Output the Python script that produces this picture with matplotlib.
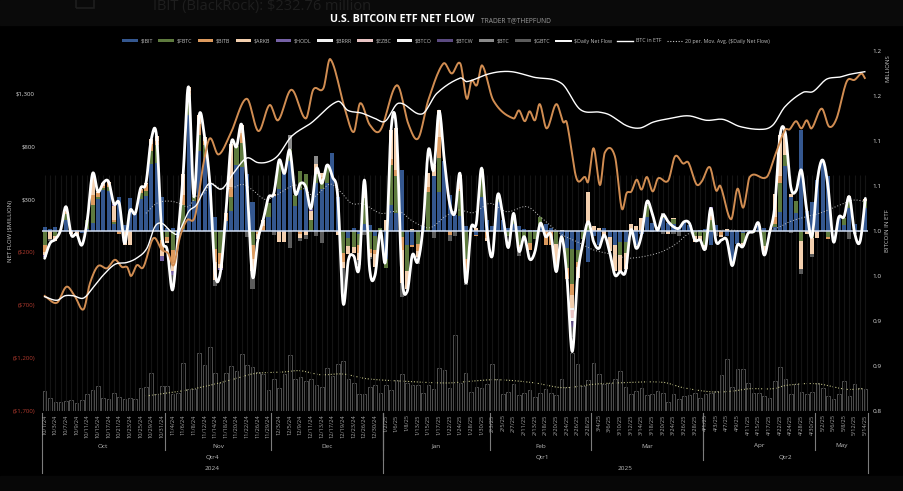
import numpy as np
import matplotlib
matplotlib.use("Agg")
import matplotlib.pyplot as plt
from matplotlib.lines import Line2D
from matplotlib.patches import Patch, Rectangle

plt.rcParams['font.family'] = ['Liberation Sans Narrow', 'Open Sans', 'DejaVu Sans']

# ---------------- data ----------------
date_labels = ["10/1/24","10/3/24","10/7/24","10/9/24","10/11/24","10/15/24","10/17/24","10/21/24","10/23/24","10/25/24","10/29/24","10/31/24",
 "11/4/24","11/6/24","11/8/24","11/12/24","11/14/24","11/18/24","11/20/24","11/22/24","11/26/24","11/29/24",
 "12/3/24","12/5/24","12/9/24","12/11/24","12/13/24","12/17/24","12/19/24","12/23/24","12/26/24","12/30/24",
 "1/2/25","1/6/25","1/8/25","1/13/25","1/15/25","1/17/25","1/22/25","1/24/25","1/28/25","1/30/25",
 "2/3/25","2/5/25","2/7/25","2/11/25","2/13/25","2/18/25","2/20/25","2/24/25","2/26/25","2/28/25",
 "3/4/25","3/6/25","3/10/25","3/12/25","3/14/25","3/18/25","3/20/25","3/24/25","3/26/25","3/28/25",
 "4/1/25","4/3/25","4/7/25","4/9/25","4/11/25","4/15/25","4/17/25","4/22/25","4/24/25","4/28/25","4/30/25",
 "5/2/25","5/6/25","5/8/25","5/12/25","5/14/25"]

IBIT = [38,15,40,5,100,10,10,-20,20,80,
 300,390,380,70,320,60,310,160,300,330,
 630,640,320,30,25,-70,20,1100,280,760,
 700,450,130,0,90,190,620,600,540,270,
 0,0,135,330,400,550,660,240,390,410,
 0,450,400,450,740,320,0,-70,25,-30,
 70,60,-50,0,-260,250,170,580,-130,-130,
 0,50,0,520,370,660,340,150,140,50,
 20,-40,320,100,50,270,100,30,70,50,
 20,10,10,60,70,30,0,-50,-160,-170,
 -180,10,-290,-50,-130,30,-60,-130,-100,-100,
 -20,-130,-30,130,80,20,120,80,70,40,
 85,60,0,10,20,-130,60,0,-50,-300,
 -120,-20,10,0,50,30,0,40,180,610,
 320,170,950,190,270,480,660,520,0,120,
 60,220,70,0,220]
FBTC = [-130,0,-50,5,60,0,0,0,80,170,
 25,15,40,15,0,0,0,0,60,50,
 130,170,-85,-60,-180,0,230,180,50,150,
 110,0,-170,-210,0,130,180,230,0,-130,
 0,0,130,0,230,0,110,100,180,130,
 100,90,50,170,0,0,-210,-70,-150,-100,
 240,-170,-130,30,-90,370,350,-60,-250,10,
 -120,0,370,0,320,0,0,0,240,-260,
 0,0,270,0,0,70,0,-50,80,-130,
 -60,-110,-80,70,0,0,-120,0,-190,-330,
 -110,-80,80,0,0,0,0,0,-130,-110,
 0,0,0,120,0,0,30,0,40,0,
 0,0,-50,-50,-130,100,0,0,0,0,
 0,-90,0,-20,0,-140,-10,30,270,110,
 0,110,-90,0,-70,0,0,-60,0,0,
 60,90,0,0,60]
BITB = [-70,0,0,0,40,0,0,0,0,90,
 30,20,35,20,-30,0,0,0,40,60,
 60,40,-95,-30,-120,0,90,40,0,100,
 40,0,-120,-100,80,100,0,100,0,-130,
 -30,50,0,0,0,0,0,0,-30,0,
 0,0,60,0,0,0,-80,0,0,-80,
 0,-40,-40,0,0,60,60,-120,0,-20,
 -70,0,50,0,200,0,-40,0,20,-130,
 0,-10,0,-70,0,0,0,0,0,-40,
 0,-70,0,0,-130,-130,0,0,-100,-100,
 -50,0,0,0,0,0,0,0,0,0,
 0,0,0,0,0,0,0,0,0,0,
 0,0,0,0,0,40,0,-40,0,0,
 0,0,0,0,0,0,0,60,70,0,
 0,0,0,0,0,0,0,-20,0,0,
 0,20,0,0,0]
ARKB = [-30,-80,-40,0,30,-30,-50,0,0,170,
 15,30,10,130,0,-130,-130,0,0,10,
 45,50,-60,-20,-80,0,200,40,0,90,
 40,0,-170,-40,0,400,0,70,0,-120,
 -50,50,0,20,-100,-100,0,0,-40,-40,
 90,90,40,0,0,-35,-60,-80,-60,-60,
 90,-40,-120,0,100,270,390,-310,-170,10,
 -60,0,130,100,250,0,0,0,130,-70,
 0,30,0,-20,0,0,0,0,0,0,
 0,0,0,0,0,0,-210,10,0,-130,
 -100,0,290,50,30,-40,-130,-250,-150,-150,
 70,50,120,0,0,0,0,-30,10,0,
 0,0,-50,-40,-30,60,0,-20,20,0,
 0,-30,0,0,0,-80,0,220,390,200,
 30,0,-270,-30,-150,-70,0,0,0,0,
 0,0,0,0,20]
# small funds: only the days on which they show
HODL_days = [0,13,22,24,33,50,125]
HODL_vals = [-15,20,-40,-40,-20,20,30]
BRRR_days = [99]
BRRR_vals = [-20]
EZBC_days = [99]
EZBC_vals = [-70]
BTCO_days = [99]
BTCO_vals = [-30]
BTCW_days = [99]
BTCW_vals = [-60]
BTC_days = [46,51,116]
BTC_vals = [140,80,20]
GBTC_days = [1,24,32,38,39,43,46,48,49,51,52,56,59,60,61,67,70,73,76,77,79,89,96,99,114,116,118,119,124,126,140,142,144,148,151,152,153]
GBTC_vals = [-10,-110,-60,-60,-170,-35,-160,-20,-40,-50,-110,-270,-50,-35,-10,-130,-60,-70,-50,-50,-50,-70,-25,-90,-10,-30,-30,-50,-20,-50,-15,-50,-30,-10,-80,-30,-10]

net_flow = [-258,-116,-79,10,230,-38,-28,-132,104,544,
 371,456,465,255,261,-116,192,167,403,450,
 865,896,-40,-180,-557,-50,544,1362,324,1094,
 890,450,-400,-383,167,827,796,1000,418,-430,
 -85,104,318,355,670,544,764,355,450,418,
 214,591,450,623,512,324,-680,-273,-236,-352,
 481,-368,-415,0,-270,953,965,-400,-575,-226,
 -290,40,764,575,1132,670,260,170,530,-480,
 25,72,594,10,-235,340,135,-157,167,-190,
 -53,-264,-195,72,-53,-38,-384,-53,-431,-1139,
 -431,-116,88,-100,-164,-38,-195,-415,-383,-383,
 10,-164,-38,277,167,10,151,88,40,25,
 88,72,-85,-85,-164,214,-100,-85,-85,-327,
 -132,-148,-22,-6,72,-226,-22,230,906,921,
 418,380,575,195,-53,481,670,418,-100,129,
 135,324,-22,-100,308]

etf_days = [0,2.3,3.8,5.4,7.3,9.2,11,13.2,15.4,17.3,19.2,20.7,22,23.8,25,27,28.5,29.8,31,33.2,35.4,37.9,40,42,43.8,46.3,50,55,56.9,59.5,62,63.9,66.4,70.8,73.6,78,79.2,83,85.5,88,91.7,97,100.5,104.2,106,109.2,111.7,114.2,117.3,120.8,124.2,127.3,130.5,134.8,136.7,138.9,142.3,144.2,146.7,149.2,151,153.9]
etf_btc = [.927,.923,.928,.928,.9255,.938,.951,.963,.965,.970,.981,1.005,1.0085,.999,.9974,1.0215,1.029,1.044,1.053,1.0467,1.064,1.081,1.076,1.077,1.084,1.105,1.120,1.144,1.134,1.131,1.125,1.122,1.142,1.130,1.153,1.170,1.166,1.174,1.177,1.1767,1.171,1.164,1.135,1.132,1.129,1.117,1.1144,1.121,1.125,1.128,1.123,1.124,1.116,1.113,1.118,1.138,1.154,1.155,1.1686,1.171,1.174,1.177]

orange_days = [0,2.3,4.1,5.7,7.3,8.5,10,11.7,13.2,14.5,15.5,16.2,17.3,18.5,20.4,22,23.2,24.2,25.4,26.7,28.2,29.8,31,32.6,34.8,37.9,40.1,42.2,43.8,46.3,49,50.4,52.3,53.6,56.4,58,59.2,61,63,66.1,68.3,70.1,72,74.8,76.4,78,79.2,80.1,81.1,82.1,84.2,88,89,90.1,91,92,92.9,94.2,96,97.3,98,99.8,101.4,102,103,104.2,105.1,107,108.3,109.2,110.1,111.1,112,113,114.1,115.1,117,118.3,119.8,120.8,122.3,123.3,124.8,126,126.8,128.8,130,131.1,132.3,135.5,137,138.9,139.8,141,142,143,143.9,145.8,147.2,148.6,150.5,152,153.3,153.9]
orange_vals = [.9278,.9203,.9381,.927,.913,.942,.961,.9586,.968,.960,.9597,.950,.962,.9597,.992,.979,.975,.962,.9937,1.012,1.016,1.075,1.103,1.085,1.107,1.147,1.111,1.140,1.123,1.157,1.125,1.157,1.1585,1.191,1.1344,1.110,1.142,1.118,1.112,1.162,1.118,1.103,1.1456,1.186,1.175,1.186,1.147,1.167,1.162,1.184,1.145,1.125,1.134,1.122,1.133,1.123,1.141,1.114,1.141,1.121,1.120,1.0585,1.060,1.055,1.092,1.051,1.087,1.083,1.025,1.042,1.044,1.057,1.046,1.060,1.044,1.0585,1.056,1.083,1.075,1.076,1.052,1.055,1.071,1.045,1.050,1.013,1.047,1.026,1.060,1.060,1.083,1.112,1.113,1.122,1.114,1.123,1.114,1.136,1.116,1.125,1.166,1.168,1.175,1.170]

ma_days = [19,21,23.3,25.3,27,28.4,30,31,33,35,37.2,39,41.3,43,45,47.1,49,50.5,51.7,53.6,55.5,57.6,59.8,63,65.1,66.7,69.2,72.3,75.1,77.6,80.5,83.6,86.7,90.5,93,96.7,100.5,103,107,109.5,115,118.2,121,124.8,128,135.4,138,139.8,142.9,145.4,149.2,151.8,154]
ma_vals = [167,261,283,261,230,324,355,450,403,403,440,387,299,324,387,434,387,324,371,443,371,261,255,167,182,182,88,31,135,198,173,261,182,230,135,-22,-116,-179,-226,-258,-210,-132,-22,-6,9,-6,41,88,135,167,245,292,277]

volume = [2.0,1.33,.93,.93,1.03,1.1,.83,1.1,1.67,2.07,
 2.5,1.27,1.23,1.83,1.43,1.17,1.33,1.23,2.33,2.43,
 3.83,1.67,2.5,2.5,1.67,1.83,4.77,2.23,2.17,5.77,
 4.57,6.43,3.83,2.83,3.83,4.5,4.0,5.67,4.57,4.43,
 3.93,3.67,2.07,3.17,2.33,3.67,5.57,3.23,3.43,3.03,
 3.17,2.57,2.43,4.33,3.5,4.67,5.0,3.23,2.83,1.73,
 1.73,2.43,2.57,1.83,2.63,2.1,3.1,3.67,2.77,2.57,
 2.57,1.83,2.57,2.23,4.33,4.1,2.33,7.6,2.83,3.83,
 1.93,2.43,2.33,2.73,4.67,3.17,1.67,1.93,2.67,1.57,
 1.77,2.07,1.43,1.77,2.23,1.77,1.57,3.17,2.43,5.8,
 4.67,2.5,3.1,4.77,3.67,2.67,2.83,3.17,4.0,2.43,
 1.67,2.0,2.27,1.57,1.73,2.0,1.77,.93,1.67,1.17,
 1.5,1.57,1.83,1.33,1.67,1.83,2.0,3.57,5.23,2.43,
 4.23,4.23,2.77,1.77,1.77,1.5,1.33,3.0,4.43,3.23,
 1.67,2.67,1.9,1.67,1.93,2.83,2.33,1.5,1.17,1.73,
 3.0,1.5,2.73,2.33,2.23]
vol_ma_days = [19,25.7,30.4,35.4,39.2,44.8,47.9,51.7,56,60.4,66.7,75.4,79.8,84.8,91.7,97.3,102.9,108.5,116,119.8,125.4,129.2,132.3,136.7,139.2,144.8,150.4,153.5]
vol_ma_vals = [1.5,2.0,2.5,3.17,3.73,3.9,4.03,3.63,3.7,3.23,3.0,2.8,2.97,3.13,2.83,2.33,2.67,2.83,2.87,2.33,1.9,2.0,2.23,2.23,2.57,2.73,2.17,2.23]

month_edges = [22.5,42.5,63.5,83.5,102.5,123.5,144.5]
month_names = ["Oct","Nov","Dec","Jan","Feb","Mar","Apr","May"]
quarter_edges = [63.5,123.5]
quarter_names = ["Qtr4","Qtr1","Qtr2"]
year_edges = [63.5]
year_names = ["2024","2025"]

left_ticks = [-1700,-1200,-700,-200,300,800,1300]
left_labels = ["($1,700)","($1,200)","($700)","($200)","$300","$800","$1,300"]
right_ticks = [0.80,0.85,0.90,0.95,1.00,1.05,1.10,1.15,1.20]
right_labels = ["0.8","0.9","0.9","1.0","1.0","1.1","1.1","1.2","1.2"]

# ---------------- helpers ----------------
def smooth(xs, ys, n=12):
    xs = np.asarray(xs, float)
    ys = np.asarray(ys, float)
    m = np.zeros_like(ys)
    m[1:-1] = (ys[2:] - ys[:-2]) / (xs[2:] - xs[:-2])
    m[0] = (ys[1] - ys[0]) / (xs[1] - xs[0])
    m[-1] = (ys[-1] - ys[-2]) / (xs[-1] - xs[-2])
    ox, oy = [], []
    for i in range(len(xs) - 1):
        h = xs[i + 1] - xs[i]
        t = np.linspace(0, 1, n, endpoint=False)
        a = 2*t**3 - 3*t**2 + 1
        b = t**3 - 2*t**2 + t
        c = -2*t**3 + 3*t**2
        d = t**3 - t**2
        ox.append(xs[i] + t*h)
        oy.append(a*ys[i] + b*h*m[i] + c*ys[i+1] + d*h*m[i+1])
    ox.append([xs[-1]])
    oy.append([ys[-1]])
    return np.concatenate(ox), np.concatenate(oy)

def sparse(days, vals, n):
    out = np.zeros(n)
    out[days] = vals
    return out

# ---------------- figure ----------------
W, H = 904, 491
fig = plt.figure(figsize=(W/100, H/100), dpi=100, facecolor='black')
L, R, T, B = 42, 868, 51, 411
ax = fig.add_axes([L/W, 1-B/H, (R-L)/W, (B-T)/H], facecolor='none')
ax_r = ax.twinx()
ax_v = ax.twinx()
ax.set_zorder(2); ax_v.set_zorder(1); ax_r.set_zorder(3)
ax_r.patch.set_visible(False); ax_v.patch.set_visible(False)

# page edges of the screenshot
fig.add_artist(Rectangle((0, 1-25/H), 1, 25/H, transform=fig.transFigure, color='#0a0a0a', zorder=-5))
fig.add_artist(Rectangle((0, 0), 1, 15/H, transform=fig.transFigure, color='#070707', zorder=-5))
fig.text(153/W, 1-6.5/H, "IBIT (BlackRock): $232.76 million", color='#1e1e1e', fontsize=10.5, va='center', zorder=-4)
fig.add_artist(Rectangle((76/W, 1-8/H), 18/W, 14/H, transform=fig.transFigure, fill=False, ec='#1e1e1e', lw=1.2, zorder=-4))

n = len(IBIT)
x = np.arange(n)

# faint column guides
ax.vlines(x, -1700, 530, color='#141414', lw=0.8, zorder=0)

stack = [
    ("$IBIT", np.array(IBIT, float), '#34578f'),
    ("$FBTC", np.array(FBTC, float), '#5e7a3e'),
    ("$BITB", np.array(BITB, float), '#dc9a5e'),
    ("$ARKB", np.array(ARKB, float), '#f3cfae'),
    ("$HODL", sparse(HODL_days, HODL_vals, n), '#7561a5'),
    ("$BRRR", sparse(BRRR_days, BRRR_vals, n), '#f2f2f2'),
    ("$EZBC", sparse(EZBC_days, EZBC_vals, n), '#e8c4c4'),
    ("$BTCO", sparse(BTCO_days, BTCO_vals, n), '#f7f7f7'),
    ("$BTCW", sparse(BTCW_days, BTCW_vals, n), '#5b4a80'),
    ("$BTC", sparse(BTC_days, BTC_vals, n), '#8a8a8a'),
    ("$GBTC", sparse(GBTC_days, GBTC_vals, n), '#5c5c5c'),
]
pos = np.zeros(n); neg = np.zeros(n)
for name, vals, col in stack:
    bottoms = np.where(vals >= 0, pos, neg)
    ax.bar(x, vals, bottom=bottoms, width=0.76, color=col, lw=0, zorder=2, label=name)
    pos += np.clip(vals, 0, None)
    neg += np.clip(vals, None, 0)

ax.axhline(0, color='#cfdcf2', lw=1.1, zorder=3)
sx, sy = smooth(x, net_flow)
ax.plot(sx, sy, color='white', lw=2.0, zorder=5, label="$Daily Net Flow", solid_capstyle='round')
ax.plot(*smooth(ma_days, ma_vals), color='#c9c9c9', lw=0.7, ls=(0, (1, 2)), zorder=4,
        label="20 per. Mov. Avg. ($Daily Net Flow)")

ax.set_xlim(-0.5, 154.5)
ax.set_ylim(-1700, 1700)
ax.set_yticks(left_ticks)
ax.set_yticklabels(left_labels)
ax.tick_params(axis='y', length=0, labelsize=4.4, pad=5)
for t, v in zip(ax.get_yticklabels(), left_ticks):
    t.set_color('#d8d8d8' if v > 0 else '#b03a2e')
ax.set_xticks(x[::2])
ax.set_xticklabels(date_labels, rotation=90)
ax.tick_params(axis='x', length=0, labelsize=4.1, labelcolor='#a8a8a8', pad=2.5)
for s in ax.spines.values():
    s.set_visible(False)

# right axis: BTC held and orange line
ax_r.plot(*smooth(etf_days, etf_btc), color='white', lw=1.0, zorder=4, label="BTC in ETF")
ax_r.plot(*smooth(orange_days, orange_vals), color='#d18d52', lw=1.4, zorder=3)
ax_r.set_ylim(0.8, 1.2)
ax_r.set_yticks(right_ticks)
ax_r.set_yticklabels(right_labels)
ax_r.tick_params(axis='y', length=0, labelsize=4.6, labelcolor='#d8d8d8', pad=3.5)
for s in ax_r.spines.values():
    s.set_visible(False)

# volume columns at the foot
ax_v.bar(x, volume, width=0.68, facecolor='none', edgecolor='#5c5c5c', lw=0.6, zorder=1)
ax_v.plot(*smooth(vol_ma_days, vol_ma_vals), color='#c6c68a', lw=0.8, ls=(0, (1, 1.6)), zorder=2)
ax_v.set_ylim(0, 36)
ax_v.set_yticks([])
for s in ax_v.spines.values():
    s.set_visible(False)

# axis titles
fig.text(11/W, 1-231/H, "NET FLOW ($MILLION)", rotation=90, color='#c8c8c8', fontsize=4.3, ha='center', va='center')
fig.text(888/W, 1-231/H, "BITCOIN IN ETF", rotation=90, color='#c8c8c8', fontsize=4.3, ha='center', va='center')
fig.text(888/W, 1-68/H, "MILLIONS", rotation=90, color='#c8c8c8', fontsize=4.3, ha='center', va='center')

# multi-level date axis
tr = ax.get_xaxis_transform()
def yfrac(py):
    return (B - py) / (B - T)
def divider(xv, py_end):
    ax.plot([xv, xv], [yfrac(413), yfrac(py_end)], transform=tr, color='#7c7c7c', lw=0.8, clip_on=False, zorder=1)

ends = [-0.5, 154.5]
for xv in ends + year_edges:
    divider(xv, 473)
for xv in quarter_edges:
    divider(xv, 460)
for xv in month_edges:
    divider(xv, 450)

def centered(edges, names, py, size):
    e = [-0.5] + edges + [154.5]
    for i, name in enumerate(names):
        ax.text((e[i] + e[i+1]) / 2, yfrac(py), name, transform=tr, color='#bcbcbc', fontsize=size,
                ha='center', va='center', clip_on=False)
centered(month_edges, month_names, 446, 4.6)
centered(quarter_edges, quarter_names, 457.5, 4.6)
centered(year_edges, year_names, 469, 4.6)

# title
fig.text(402/W, 1-19.5/H, "U.S. BITCOIN ETF NET FLOW", color='white', fontsize=7.7, fontweight='bold', ha='center', va='center')
fig.text(481/W, 1-20.5/H, "TRADER T@THEPFUND", color='#9a9a9a', fontsize=4.8, ha='left', va='center')

# legend
handles = [Patch(facecolor=c, label=nm) for nm, _, c in stack]
handles += [Line2D([], [], color='white', lw=1.4, label="$Daily Net Flow"),
            Line2D([], [], color='white', lw=1.0, label="BTC in ETF"),
            Line2D([], [], color='#c9c9c9', lw=0.8, ls=(0, (1, 1.5)), label="20 per. Mov. Avg. ($Daily Net Flow)")]
leg = fig.legend(handles=handles, ncol=14, loc='center', bbox_to_anchor=(446/W, 1-41/H), frameon=False,
                 fontsize=3.8, handlelength=3.0, handleheight=0.5, handletextpad=0.5, columnspacing=1.0,
                 labelcolor='#c0c0c0', borderpad=0)

fig.savefig("out.png", dpi=100, facecolor='black')
